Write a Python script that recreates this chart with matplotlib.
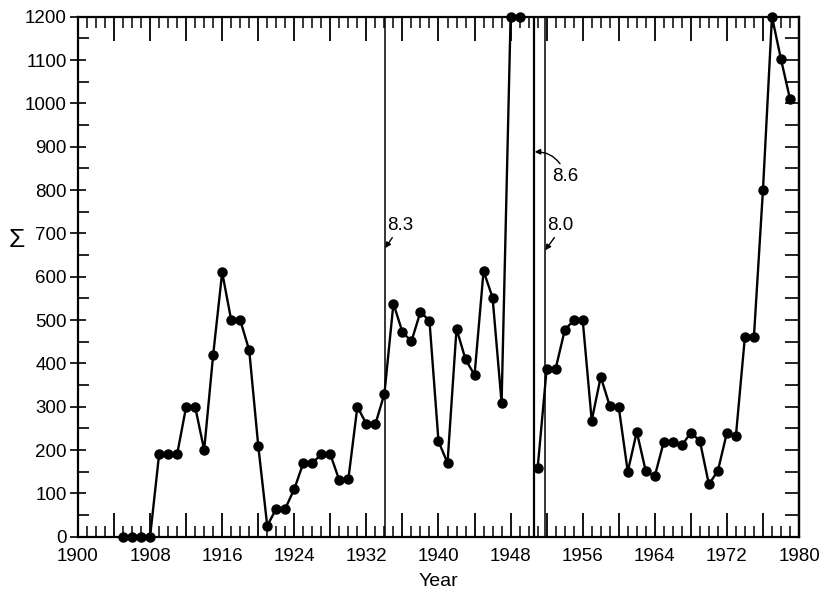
import numpy as np
import matplotlib
matplotlib.use("Agg")
import matplotlib.pyplot as plt
from matplotlib.ticker import MultipleLocator, FuncFormatter

# yearly sums, 1950 missing (gap in the record)
years = list(range(1905, 1980))
sigma = [
    0, 0, 0, 0, 190, 190, 190, 300, 300, 200,          # 1905-1914
    420, 610, 500, 500, 430, 210, 25, 65, 65, 110,     # 1915-1924
    170, 170, 190, 190, 130, 133, 300, 260, 260, 330,  # 1925-1934
    538, 472, 451, 519, 498, 220, 170, 480, 409, 373,  # 1935-1944
    613, 552, 309, 1200, 1200, np.nan, 158, 387, 388, 476,  # 1945-1954
    500, 500, 268, 369, 302, 299, 150, 242, 151, 140,  # 1955-1964
    219, 219, 211, 240, 221, 121, 152, 240, 233, 462,  # 1965-1974
    462, 800, 1200, 1102, 1010,                        # 1975-1979
]

# large earthquakes marked by vertical lines
quake_years = [1934.04, 1950.62, 1951.8]
quake_mags = ["8.3", "8.6", "8.0"]
quake_arrow_tip = [666, 888, 661]
quake_text_xy = [(1934.3, 719), (1952.6, 832), (1952.0, 719)]

plt.rcParams["font.family"] = ["Liberation Sans", "DejaVu Sans"]

fig = plt.figure(figsize=(8.2, 5.92), dpi=100)
ax = fig.add_axes([0.0951, 0.0934, 0.8793, 0.8784])

for q, lw in zip(quake_years, [1.1, 1.6, 1.1]):
    ax.axvline(q, color="black", lw=lw, zorder=1)

ax.plot(years, sigma, color="black", lw=1.7, marker="o", markersize=6.5,
        clip_on=False, zorder=3)

# arrows from the magnitude labels to their lines
rel = [(0.3, 0.0), (0.4, 1.0), (0.4, 0.0)]
conn = ["arc3,rad=0", "arc3,rad=0.3", "arc3,rad=0"]
for q, mag, tip, txy, rp, cs in zip(quake_years, quake_mags, quake_arrow_tip,
                                     quake_text_xy, rel, conn):
    ax.annotate(mag, xy=(q + 0.05, tip), xytext=txy, ha="left", va="center",
                fontsize=13.5,
                arrowprops=dict(arrowstyle="-|>", color="black", lw=1.0,
                                mutation_scale=8, relpos=rp,
                                connectionstyle=cs, shrinkA=1, shrinkB=0))

ax.set_xlim(1900, 1980)
ax.set_ylim(0, 1200)


def year_label(v, pos):
    yr = int(round(v))
    return str(yr) if (yr - 1900) % 8 == 0 else ""


ax.xaxis.set_major_locator(MultipleLocator(4))
ax.xaxis.set_minor_locator(MultipleLocator(1))
ax.xaxis.set_major_formatter(FuncFormatter(year_label))
ax.yaxis.set_major_locator(MultipleLocator(100))
ax.yaxis.set_minor_locator(MultipleLocator(50))

ax.tick_params(axis="x", which="major", direction="in", length=17, width=1.3,
               top=True, bottom=True, labelsize=13.5, pad=8)
ax.tick_params(axis="x", which="minor", direction="in", length=8, width=1.1,
               top=True, bottom=True)
ax.tick_params(axis="y", which="major", direction="inout", length=12, width=1.2,
               left=True, right=False, labelsize=13.5, pad=2)
ax.tick_params(axis="y", which="minor", direction="in", length=8, width=1.2,
               left=True, right=False)

# right side: plain inward ticks every 50, no labels
ay = ax.secondary_yaxis("right")
ay.yaxis.set_major_locator(MultipleLocator(50))
ay.tick_params(direction="in", length=10, width=1.2, labelright=False)

for s in ax.spines.values():
    s.set_linewidth(1.6)
ay.spines["right"].set_linewidth(1.6)

ax.set_xlabel("Year", fontsize=14, labelpad=6)
ax.set_ylabel("\u03a3", fontsize=19, rotation=0, va="center", ha="center")
ax.yaxis.set_label_coords(-0.085, 0.571)

fig.savefig("out.png", dpi=100)
